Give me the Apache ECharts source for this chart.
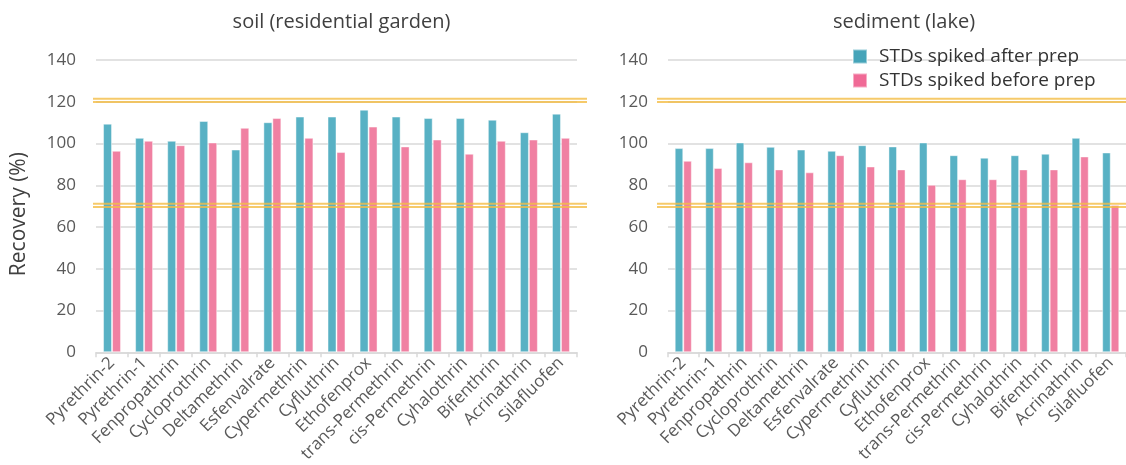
<!DOCTYPE html>
<html>
<head>
<meta charset="utf-8">
<script src="https://cdn.jsdelivr.net/npm/echarts@6/dist/echarts.min.js"></script>
<style>
  html, body { margin: 0; padding: 0; background: #ffffff; }
  #chart { width: 1126px; height: 465px; }
</style>
</head>
<body>
<div id="chart"></div>
<script>
// Pyrethroid compounds on the category axis
const categories = [
  'Pyrethrin-2', 'Pyrethrin-1', 'Fenpropathrin', 'Cycloprothrin', 'Deltamethrin',
  'Esfenvalrate', 'Cypermethrin', 'Cyfluthrin', 'Ethofenprox', 'trans-Permethrin',
  'cis-Permethrin', 'Cyhalothrin', 'Bifenthrin', 'Acrinathrin', 'Silafluofen'
];

// Recovery (%) per matrix
const soilAfter  = [109.5, 102.7, 101.3, 110.8, 97.1, 110.2, 112.9, 112.9, 116.2, 112.9, 112.2, 112.2, 111.4, 105.4, 114.3];
const soilBefore = [96.5, 101.3, 99.2, 100.5, 107.5, 112.2, 102.7, 95.9, 108.1, 98.6, 101.9, 95.1, 101.3, 101.9, 102.7];
const sedAfter   = [97.8, 97.8, 100.5, 98.4, 97.1, 96.5, 99.2, 98.6, 100.5, 94.4, 93.2, 94.4, 95.1, 102.7, 95.7];
const sedBefore  = [91.7, 88.3, 91.0, 87.6, 86.2, 94.4, 89.0, 87.6, 80.2, 82.9, 82.9, 87.6, 87.6, 93.8, 70.6];

// Acceptance limits, each drawn as a double line
const limitLines = [70, 71.5, 120, 121.5];

const seriesNames = ['STDs spiked after prep', 'STDs spiked before prep'];
const panelTitles = ['soil (residential garden)', 'sediment (lake)'];
const yTicks = { min: 0, max: 140, interval: 20 };

const FONT = '"Open Sans", "Noto Sans", sans-serif';
const TEAL = '#58b1c4';
const PINK = '#f080a2';
const LIMIT = '#f4bd45';

const chart = echarts.init(document.getElementById('chart'), null, { renderer: 'canvas' });

const TOP = 60, BOTTOM = 111;
const panels = [
  { left: 96, right: 549, lineLeft: 93, lineRight: 539, after: soilAfter, before: soilBefore, yName: 'Recovery (%)' },
  { left: 668, right: -4, lineLeft: 657, lineRight: -4, after: sedAfter, before: sedBefore, yName: '' }
];

const grid = [], xAxis = [], yAxis = [], series = [], title = [];

panels.forEach((p, i) => {
  // bar panel
  grid.push({ left: p.left, right: p.right, top: TOP, bottom: BOTTOM, containLabel: false });
  xAxis.push({
    type: 'category', gridIndex: i, data: categories,
    axisLine: { lineStyle: { color: '#d9d9d9', width: 1.5 } },
    axisTick: { show: true, length: 5, lineStyle: { color: '#d9d9d9', width: 1.5 } },
    axisLabel: { rotate: 45, fontSize: 17, color: '#595959', fontFamily: FONT, margin: 8, interval: 0 }
  });
  yAxis.push({
    type: 'value', gridIndex: i, min: yTicks.min, max: yTicks.max, interval: yTicks.interval,
    name: p.yName, nameLocation: 'middle', nameGap: 66,
    nameTextStyle: { fontSize: 21, color: '#404040', fontFamily: FONT, padding: [0, 16, 0, 0] },
    axisLine: { show: false }, axisTick: { show: false },
    axisLabel: { fontSize: 17, color: '#595959', fontFamily: FONT, margin: 20 },
    splitLine: { lineStyle: { color: '#d9d9d9', width: 1.5 } }
  });
  const barStyle = (c) => ({ color: c, borderColor: 'rgba(255,255,255,0.45)', borderWidth: 1 });
  series.push({
    type: 'bar', name: seriesNames[0], xAxisIndex: i, yAxisIndex: i, data: p.after,
    barGap: '0%', barCategoryGap: '44%', itemStyle: barStyle(TEAL), z: 2
  });
  series.push({
    type: 'bar', name: seriesNames[1], xAxisIndex: i, yAxisIndex: i, data: p.before,
    barGap: '0%', barCategoryGap: '44%', itemStyle: barStyle(PINK), z: 2
  });
  title.push({
    text: panelTitles[i],
    left: (p.left + 1126 - p.right) / 2,
    top: 7, textAlign: 'center',
    textStyle: { fontSize: 20, fontWeight: 'normal', color: '#404040', fontFamily: FONT }
  });
});

// overlay panels for the limit lines (slightly wider than the bar panels)
panels.forEach((p, i) => {
  const gi = grid.length;
  grid.push({ left: p.lineLeft, right: p.lineRight, top: TOP, bottom: BOTTOM, containLabel: false });
  xAxis.push({ type: 'value', gridIndex: gi, min: 0, max: 1, show: false });
  yAxis.push({ type: 'value', gridIndex: gi, min: yTicks.min, max: yTicks.max, show: false });
  limitLines.forEach((v) => {
    series.push({
      type: 'line', xAxisIndex: gi, yAxisIndex: gi, silent: true, symbol: 'none', z: 5,
      data: [[0, v], [1, v]],
      lineStyle: { color: LIMIT, width: 2, opacity: 0.8 }
    });
  });
});

chart.setOption({
  animation: false,
  backgroundColor: '#ffffff',
  textStyle: { fontFamily: FONT },
  title: title,
  legend: {
    orient: 'vertical', left: 847, top: 42,
    itemWidth: 14, itemHeight: 14, itemGap: 5,
    icon: 'rect',
    data: [
      { name: seriesNames[0], itemStyle: { color: '#45a4b9' } },
      { name: seriesNames[1], itemStyle: { color: '#f06a96' } }
    ],
    textStyle: { fontSize: 19, color: '#333333', fontFamily: FONT, padding: [0, 0, 0, 7] }
  },
  grid: grid,
  xAxis: xAxis,
  yAxis: yAxis,
  series: series
});
</script>
</body>
</html>
